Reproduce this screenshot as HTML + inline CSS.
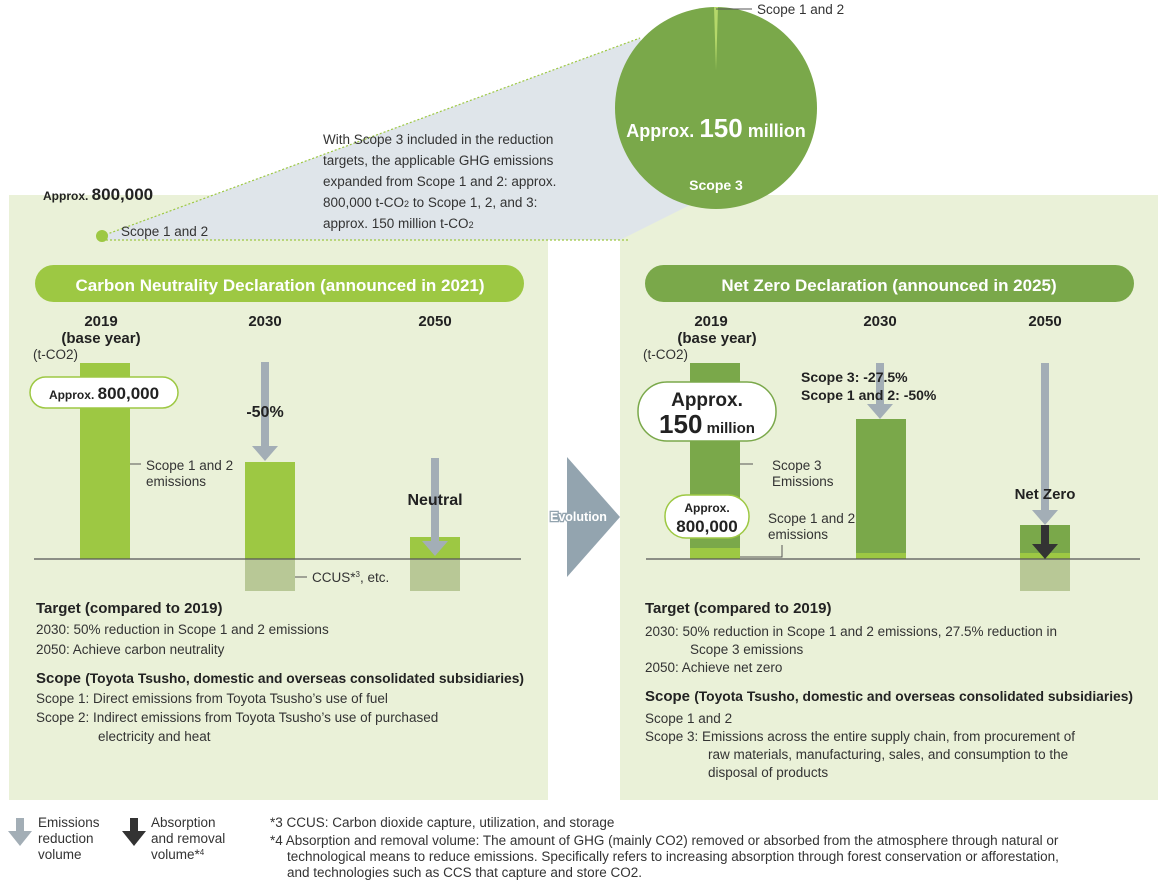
<!DOCTYPE html>
<html><head><meta charset="utf-8"><style>
body{margin:0;background:#fff;}
svg{display:block;font-family:"Liberation Sans",sans-serif;}
.t{fill:#333;font-size:13.5px;}
.b{font-weight:bold;fill:#222;}
</style></head><body>
<svg width="1167" height="886" viewBox="0 0 1167 886">
<rect x="9" y="195" width="539" height="605" fill="#eaf1d8"/>
<rect x="620" y="195" width="538" height="605" fill="#eaf1d8"/>
<polygon points="102,236 640,38 690,205 620,240 102,240" fill="#dfe5ea"/>
<line x1="102" y1="236" x2="640" y2="38" stroke="#9dc843" stroke-width="1.2" stroke-dasharray="2,2"/>
<line x1="102" y1="240" x2="630" y2="240" stroke="#9dc843" stroke-width="1.2" stroke-dasharray="2,2"/>
<circle cx="716" cy="108" r="101" fill="#7aa84a"/>
<polygon points="716,70 714,7 718,7" fill="#b5d86a"/>
<line x1="716" y1="9" x2="752" y2="9" stroke="#555"/>
<text x="757" y="14" class="t" font-size="12">Scope 1 and 2</text>
<text x="716" y="137" text-anchor="middle" fill="#fff" font-weight="bold" font-size="18">Approx. <tspan font-size="26">150</tspan> million</text>
<text x="716" y="190" text-anchor="middle" fill="#fff" font-weight="bold" font-size="14">Scope 3</text>
<circle cx="102" cy="236" r="6" fill="#9dc843"/>
<text x="43" y="200" class="b" font-size="12">Approx. <tspan font-size="17">800,000</tspan></text>
<text x="121" y="236" class="t" font-size="12">Scope 1 and 2</text>
<g class="t" font-size="14"><text x="323" y="144">With Scope 3 included in the reduction</text><text x="323" y="165">targets, the applicable GHG emissions</text><text x="323" y="186">expanded from Scope 1 and 2: approx.</text><text x="323" y="207">800,000 t-CO<tspan font-size="9">2</tspan> to Scope 1, 2, and 3:</text><text x="323" y="228">approx. 150 million t-CO<tspan font-size="9">2</tspan></text></g>
<rect x="35" y="265" width="489" height="37" rx="18.5" fill="#9dc843"/>
<text x="280" y="291" text-anchor="middle" fill="#fff" font-weight="bold" font-size="17">Carbon Neutrality Declaration (announced in 2021)</text>
<rect x="645" y="265" width="489" height="37" rx="18.5" fill="#7aa84a"/>
<text x="889" y="291" text-anchor="middle" fill="#fff" font-weight="bold" font-size="17">Net Zero Declaration (announced in 2025)</text>
<g class="b" font-size="15" text-anchor="middle"><text x="101" y="326">2019</text><text x="101" y="343">(base year)</text><text x="265" y="326">2030</text><text x="435" y="326">2050</text>
<text x="711" y="326">2019</text><text x="717" y="343">(base year)</text><text x="880" y="326">2030</text><text x="1045" y="326">2050</text></g>
<text x="33" y="359" class="t" font-size="9">(t-CO2)</text>
<text x="643" y="359" class="t" font-size="9">(t-CO2)</text>
<rect x="80" y="363" width="50" height="196" fill="#9dc843"/>
<rect x="245" y="462" width="50" height="97" fill="#9dc843"/>
<rect x="245" y="559" width="50" height="32" fill="#b8c896"/>
<rect x="410" y="537" width="50" height="22" fill="#9dc843"/>
<rect x="410" y="559" width="50" height="32" fill="#b8c896"/>
<line x1="34" y1="559" x2="521" y2="559" stroke="#555" stroke-width="1.2"/>
<rect x="30" y="377" width="148" height="31" rx="15.5" fill="#fff" stroke="#9dc843" stroke-width="1.5"/>
<text x="104" y="399" text-anchor="middle" class="b" font-size="12">Approx. <tspan font-size="17">800,000</tspan></text>
<rect x="261" y="362" width="8" height="86" fill="#a3aeb6"/><polygon points="252,446 278,446 265,461" fill="#a3aeb6"/>
<rect x="431" y="458" width="8" height="84" fill="#a3aeb6"/><polygon points="422,541 448,541 435,556" fill="#a3aeb6"/>
<text x="265" y="417" text-anchor="middle" class="b" font-size="16">-50%</text>
<text x="435" y="505" text-anchor="middle" class="b" font-size="16">Neutral</text>
<line x1="130" y1="464" x2="141" y2="464" stroke="#555"/>
<text x="146" y="470" class="t" font-size="12.5">Scope 1 and 2</text><text x="146" y="486" class="t" font-size="12.5">emissions</text>
<line x1="295" y1="577" x2="307" y2="577" stroke="#555"/>
<text x="312" y="582" class="t" font-size="12.5">CCUS*<tspan font-size="8" dy="-5">3</tspan><tspan dy="5">, etc.</tspan></text>
<polygon points="567,457 620,517 567,577" fill="#93a4af"/>
<text x="550" y="521" fill="#fff" stroke="#93a4af" stroke-width="2.5" paint-order="stroke" font-weight="bold" font-size="12.5">Evolution</text>
<rect x="690" y="363" width="50" height="196" fill="#7aa84a"/>
<rect x="690" y="548" width="50" height="11" fill="#9dc843"/>
<rect x="856" y="419" width="50" height="140" fill="#7aa84a"/>
<rect x="856" y="553" width="50" height="6" fill="#9dc843"/>
<rect x="1020" y="525" width="50" height="34" fill="#7aa84a"/>
<rect x="1020" y="553" width="50" height="6" fill="#9dc843"/>
<rect x="1020" y="559" width="50" height="32" fill="#b8c896"/>
<line x1="646" y1="559" x2="1140" y2="559" stroke="#555" stroke-width="1.2"/>
<rect x="876" y="363" width="8" height="42" fill="#a3aeb6"/><polygon points="867,404 893,404 880,419" fill="#a3aeb6"/>
<rect x="1041" y="363" width="8" height="148" fill="#a3aeb6"/><polygon points="1032,510 1058,510 1045,525" fill="#a3aeb6"/>
<rect x="1041" y="525" width="8" height="20" fill="#333"/><polygon points="1032,544 1058,544 1045,559" fill="#333"/>
<rect x="638" y="382" width="138" height="59" rx="29" fill="#fff" stroke="#7aa84a" stroke-width="1.5"/>
<text x="707" y="406" text-anchor="middle" class="b" font-size="19">Approx.</text>
<text x="707" y="433" text-anchor="middle" class="b" font-size="15"><tspan font-size="26">150</tspan> million</text>
<rect x="665" y="495" width="84" height="43" rx="21" fill="#fff" stroke="#9dc843" stroke-width="1.5"/>
<text x="707" y="512" text-anchor="middle" class="b" font-size="12">Approx.</text>
<text x="707" y="532" text-anchor="middle" class="b" font-size="17">800,000</text>
<text x="801" y="382" class="b" font-size="14">Scope 3: -27.5%</text>
<text x="801" y="400" class="b" font-size="14">Scope 1 and 2: -50%</text>
<text x="1045" y="499" text-anchor="middle" class="b" font-size="15">Net Zero</text>
<line x1="740" y1="464" x2="753" y2="464" stroke="#555"/>
<text x="772" y="470" class="t" font-size="12.5">Scope 3</text><text x="772" y="486" class="t" font-size="12.5">Emissions</text>
<text x="768" y="523" class="t" font-size="12.5">Scope 1 and 2</text><text x="768" y="539" class="t" font-size="12.5">emissions</text>
<polyline points="740,557 782,557 782,545" fill="none" stroke="#555"/>
<g class="t" font-size="14.5">
<text x="36" y="613" class="b" font-size="15">Target (compared to 2019)</text>
<text x="36" y="634">2030: 50% reduction in Scope 1 and 2 emissions</text>
<text x="36" y="654">2050: Achieve carbon neutrality</text>
<text x="36" y="683" class="b" font-size="15">Scope <tspan font-size="13.8">(Toyota Tsusho, domestic and overseas consolidated subsidiaries)</tspan></text>
<text x="36" y="703">Scope 1: Direct emissions from Toyota Tsusho’s use of fuel</text>
<text x="36" y="722">Scope 2: Indirect emissions from Toyota Tsusho’s use of purchased</text>
<text x="98" y="741">electricity and heat</text>
<text x="645" y="613" class="b" font-size="15">Target (compared to 2019)</text>
<text x="645" y="636">2030: 50% reduction in Scope 1 and 2 emissions, 27.5% reduction in</text>
<text x="690" y="654">Scope 3 emissions</text>
<text x="645" y="672">2050: Achieve net zero</text>
<text x="645" y="701" class="b" font-size="15">Scope <tspan font-size="13.8">(Toyota Tsusho, domestic and overseas consolidated subsidiaries)</tspan></text>
<text x="645" y="723">Scope 1 and 2</text>
<text x="645" y="741">Scope 3: Emissions across the entire supply chain, from procurement of</text>
<text x="708" y="759">raw materials, manufacturing, sales, and consumption to the</text>
<text x="708" y="777">disposal of products</text>
</g>
<rect x="16" y="818" width="8" height="14" fill="#a3aeb6"/><polygon points="8,831 32,831 20,846" fill="#a3aeb6"/>
<rect x="130" y="818" width="8" height="14" fill="#333"/><polygon points="122,831 146,831 134,846" fill="#333"/>
<g class="t" font-size="12">
<text x="38" y="827">Emissions</text><text x="38" y="843">reduction</text><text x="38" y="859">volume</text>
<text x="151" y="827">Absorption</text><text x="151" y="843">and removal</text><text x="151" y="859">volume*<tspan font-size="8" dy="-4">4</tspan></text>
<text x="270" y="827">*3 CCUS: Carbon dioxide capture, utilization, and storage</text>
<text x="270" y="845">*4 Absorption and removal volume: The amount of GHG (mainly CO2) removed or absorbed from the atmosphere through natural or</text>
<text x="287" y="861">technological means to reduce emissions. Specifically refers to increasing absorption through forest conservation or afforestation,</text>
<text x="287" y="877">and technologies such as CCS that capture and store CO2.</text>
</g>
</svg>
</body></html>
